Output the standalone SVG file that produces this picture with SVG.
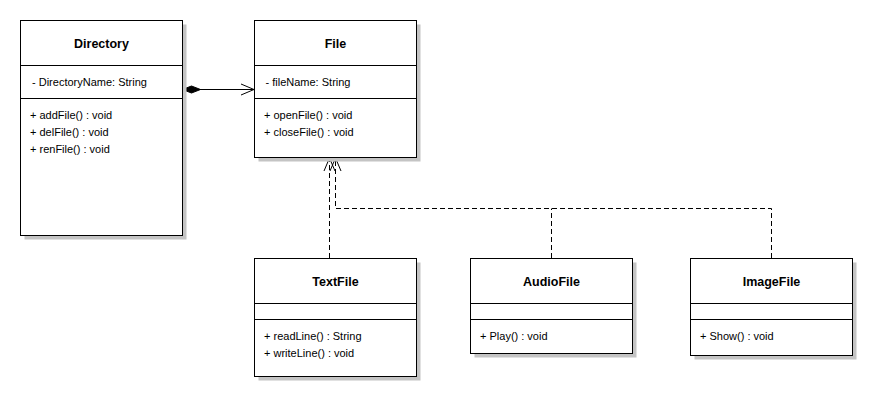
<svg xmlns="http://www.w3.org/2000/svg" width="877" height="401" viewBox="0 0 877 401">
<style>
.bg{fill:#ffffff}
.shadow{fill:#c4c4c4}
.box{fill:#ffffff;stroke:#000000;stroke-width:1}
.div{stroke:#000000;stroke-width:1}
.title{font-family:"Liberation Sans",Arial,sans-serif;font-size:12.5px;font-weight:bold;fill:#000000;text-anchor:middle}
.mem{font-family:"Liberation Sans",Arial,sans-serif;font-size:11px;fill:#000000}
.line{fill:none;stroke:#000000;stroke-width:1}
.dash{fill:none;stroke:#000000;stroke-width:1;stroke-dasharray:5,3}
</style>
<defs>
<marker id="open" markerUnits="userSpaceOnUse" markerWidth="16" markerHeight="14" refX="14" refY="6.5" orient="auto" overflow="visible">
<path d="M1,1 L14,6.5 L1,12" fill="none" stroke="#000000" stroke-width="1" stroke-dasharray="none"/>
</marker>
<marker id="diamond" markerUnits="userSpaceOnUse" markerWidth="20" markerHeight="10" refX="0" refY="4" orient="auto" overflow="visible">
<path d="M0,4 L9,0.5 L18,4 L9,7.5 Z" fill="#000000" stroke="#000000" stroke-width="1"/>
</marker>
</defs>
<rect class="bg" x="0" y="0" width="877" height="401"/>

<g id="connectors">
<path class="line" d="M182.5,89.5 H254" marker-start="url(#diamond)" marker-end="url(#open)"/>
<path class="dash" d="M329.5,258 V158" marker-end="url(#open)"/>
<path class="dash" d="M551.5,258 V208.5"/>
<path class="dash" d="M771.5,258 V208.5 H335.5 V158" marker-end="url(#open)"/>
</g>

<g id="Directory">
<rect class="shadow" x="24.5" y="24.5" width="162" height="215"/>
<rect class="box" x="20.5" y="20.5" width="162" height="215"/>
<line class="div" x1="20.5" y1="65.5" x2="182.5" y2="65.5"/>
<line class="div" x1="20.5" y1="98.5" x2="182.5" y2="98.5"/>
<text class="title" x="101.5" y="48">Directory</text>
<text class="mem" x="32" y="86">- DirectoryName: String</text>
<text class="mem" x="30" y="119">+ addFile() : void</text>
<text class="mem" x="30" y="136">+ delFile() : void</text>
<text class="mem" x="30" y="152.5">+ renFile() : void</text>
</g>

<g id="File">
<rect class="shadow" x="258.5" y="24.5" width="162" height="137"/>
<rect class="box" x="254.5" y="20.5" width="162" height="137"/>
<line class="div" x1="254.5" y1="65.5" x2="416.5" y2="65.5"/>
<line class="div" x1="254.5" y1="98.5" x2="416.5" y2="98.5"/>
<text class="title" x="335.5" y="48">File</text>
<text class="mem" x="265.5" y="86">- fileName: String</text>
<text class="mem" x="264" y="119">+ openFile() : void</text>
<text class="mem" x="264" y="136">+ closeFile() : void</text>
</g>

<g id="TextFile">
<rect class="shadow" x="258.5" y="262.5" width="162" height="118"/>
<rect class="box" x="254.5" y="258.5" width="162" height="118"/>
<line class="div" x1="254.5" y1="303.5" x2="416.5" y2="303.5"/>
<line class="div" x1="254.5" y1="319.5" x2="416.5" y2="319.5"/>
<text class="title" x="335.5" y="286">TextFile</text>
<text class="mem" x="264" y="340">+ readLine() : String</text>
<text class="mem" x="264" y="357">+ writeLine() : void</text>
</g>

<g id="AudioFile">
<rect class="shadow" x="474.5" y="262.5" width="162" height="95"/>
<rect class="box" x="470.5" y="258.5" width="162" height="95"/>
<line class="div" x1="470.5" y1="303.5" x2="632.5" y2="303.5"/>
<line class="div" x1="470.5" y1="319.5" x2="632.5" y2="319.5"/>
<text class="title" x="551.5" y="286">AudioFile</text>
<text class="mem" x="480" y="340">+ Play() : void</text>
</g>

<g id="ImageFile">
<rect class="shadow" x="694.5" y="262.5" width="162" height="97"/>
<rect class="box" x="690.5" y="258.5" width="162" height="97"/>
<line class="div" x1="690.5" y1="303.5" x2="852.5" y2="303.5"/>
<line class="div" x1="690.5" y1="319.5" x2="852.5" y2="319.5"/>
<text class="title" x="771.5" y="286">ImageFile</text>
<text class="mem" x="700" y="340">+ Show() : void</text>
</g>
</svg>
